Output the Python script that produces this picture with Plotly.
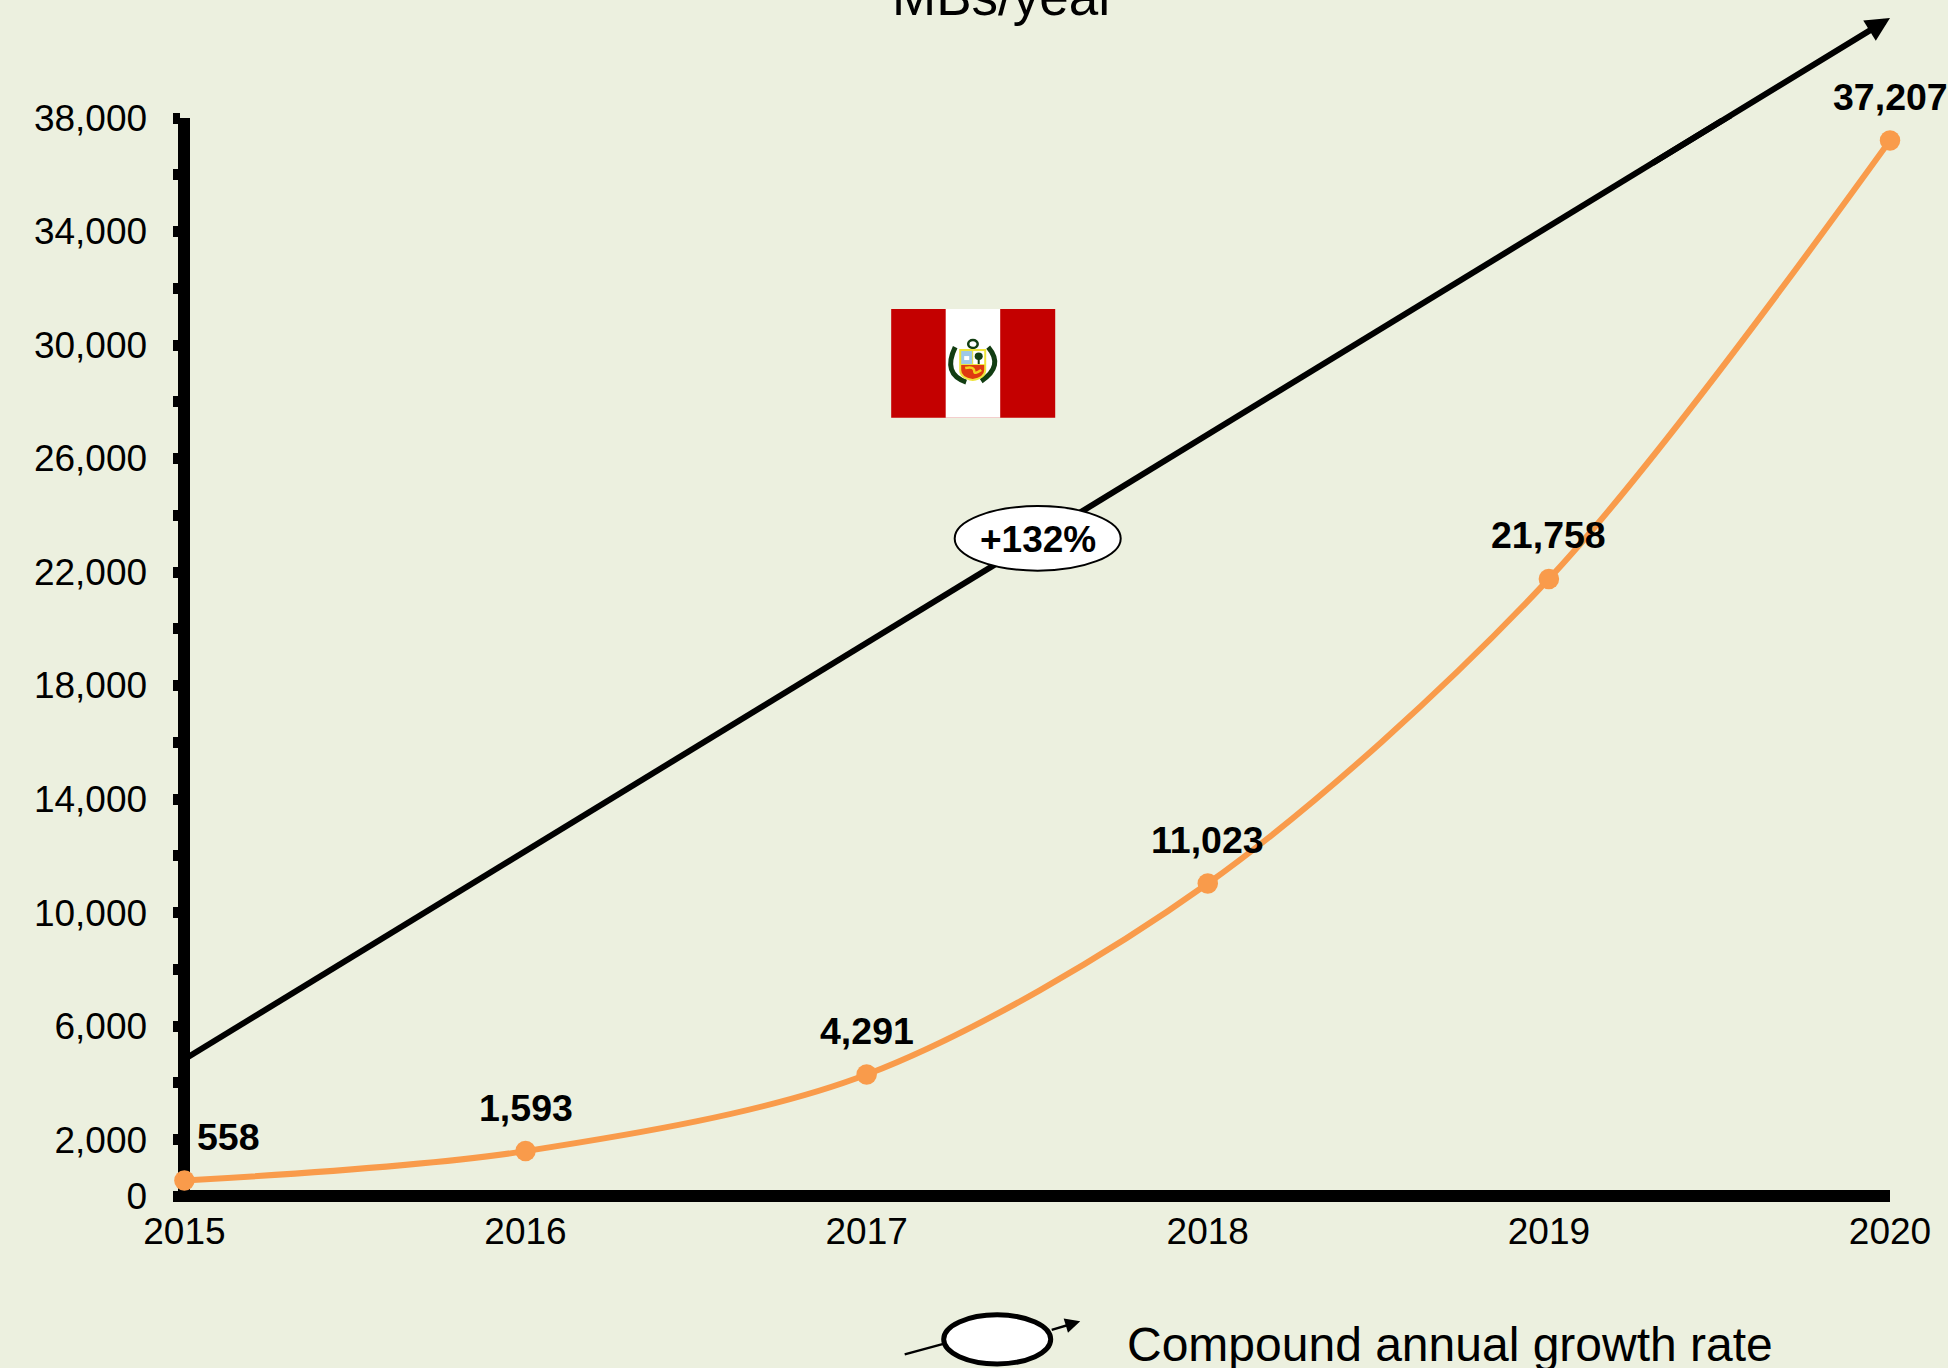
import plotly.graph_objects as go

W, H = 1948, 1368
BG = "#ECF0DF"
ORANGE = "#F99B4B"
FONT = "Liberation Sans"

# ---- data ----
years = ["2015", "2016", "2017", "2018", "2019", "2020"]
year_pos = [0, 1, 2, 3, 4, 5]
mbs_per_year = [558, 1593, 4291, 11023, 21758, 37207]
value_labels = ["558", "1,593", "4,291", "11,023", "21,758", "37,207"]
y_ticks = [0, 2000, 4000, 6000, 8000, 10000, 12000, 14000, 16000, 18000, 20000,
           22000, 24000, 26000, 28000, 30000, 32000, 34000, 36000, 38000]
y_tick_labels = ["0", "2,000", "", "6,000", "", "10,000", "", "14,000", "", "18,000", "",
                 "22,000", "", "26,000", "", "30,000", "", "34,000", "", "38,000"]
trend_x = [0, 5]
trend_y = [4830, 41520]
cagr_label = "+132%"
title_text = "MBs/year"
legend_text = "Compound annual growth rate"

# ---- layout geometry (page pixels) ----
X0, X5 = 184.3, 1889.7
Y0, Y38 = 1196.0, 118.0
px_per_x = (X5 - X0) / 5
px_per_y = (Y0 - Y38) / 38000
x_pad = 0.01
y_pad = 200
L = X0 - x_pad * px_per_x
B = Y0 + y_pad * px_per_y
R = X5
T = Y38


def fx(p):
    return (p - L) / (R - L)


def fy(p):
    return (B - p) / (B - T)


def P(x, y):
    return f"{fx(x)},{fy(y)}"


def rect(x0, y0, x1, y1, color):
    return dict(type="rect", xref="paper", yref="paper", x0=fx(x0), x1=fx(x1), y0=fy(y1), y1=fy(y0),
                fillcolor=color, line=dict(width=0), layer="above")


def oval(x0, y0, x1, y1, fill, line="rgba(0,0,0,0)", lw=0):
    return dict(type="circle", xref="paper", yref="paper", x0=fx(x0), x1=fx(x1), y0=fy(y1), y1=fy(y0),
                fillcolor=fill, line=dict(color=line, width=lw), layer="above")


def stroke(d, color, lw, fill=None):
    return dict(type="path", xref="paper", yref="paper", path=d, fillcolor=fill or "rgba(0,0,0,0)",
                line=dict(color=color, width=lw), layer="above")


fig = go.Figure()

# The line is clipped at the top of the plot; its last stretch and head are the arrow annotation below.
fig.add_trace(go.Scatter(
    x=trend_x, y=trend_y, mode="lines", hoverinfo="skip", showlegend=False,
    line=dict(color="black", width=6),
))
fig.add_trace(go.Scatter(
    x=year_pos, y=mbs_per_year, mode="lines+markers", cliponaxis=False, hoverinfo="skip", showlegend=False,
    line=dict(color=ORANGE, width=6, shape="spline", smoothing=0.9),
    marker=dict(color=ORANGE, size=20.5, line=dict(width=0)),
))

shapes = []
# CAGR bubble
shapes.append(oval(954.5, 506, 1120.5, 570.5, "white", "black", 2))

# flag
shapes.append(rect(891, 309, 1055, 417.7, "#C40000"))
shapes.append(rect(945.5, 309, 1000, 417.7, "white"))
GREEN = "#123D12"
# palm and laurel branches
shapes.append(stroke(f"M{P(955, 347)} Q{P(942, 374)} {P(966, 382)}", GREEN, 5))
shapes.append(stroke(f"M{P(988, 347)} Q{P(1004, 366)} {P(981, 381)}", GREEN, 5))
shapes.append(oval(968, 340, 977.5, 348, "white", GREEN, 2.5))
# shield
shapes.append(stroke(f"M{P(959, 349)} L{P(986, 349)} L{P(986, 370)} Q{P(986, 379)} {P(972.5, 381)} "
                     f"Q{P(959, 379)} {P(959, 370)} Z", "rgba(0,0,0,0)", 0, "#EFE43A"))
shapes.append(rect(961, 351, 972, 364, "#9CC8E8"))
shapes.append(rect(973, 351, 984, 364, "white"))
shapes.append(oval(974.5, 352.5, 982.5, 360, GREEN))
shapes.append(rect(977.5, 359, 979.5, 364, GREEN))
shapes.append(rect(964, 356, 969, 360, "white"))
shapes.append(stroke(f"M{P(961, 365)} L{P(984, 365)} L{P(984, 370)} Q{P(984, 377)} {P(972.5, 379)} "
                     f"Q{P(961, 377)} {P(961, 370)} Z", "rgba(0,0,0,0)", 0, "#E03A10"))
shapes.append(stroke(f"M{P(965, 368)} Q{P(974, 366)} {P(974, 371)} Q{P(974, 375)} {P(981, 370)}", "#F3D21A", 2.5))

# legend key
shapes.append(stroke(f"M{P(904.5, 1354)} L{P(945, 1343)}", "black", 2.5))
shapes.append(oval(943.5, 1314.5, 1050.5, 1363.5, "white", "black", 5))

annotations = []
for xv, yv, label in zip(year_pos, mbs_per_year, value_labels):
    annotations.append(dict(
        x=xv, y=yv, xref="x", yref="y", text=label, showarrow=False, yanchor="middle", xanchor="center",
        yshift=43.5, xshift=44 if xv == 0 else 0,
        font=dict(family=FONT, size=37.5, color="black", weight="bold"),
    ))
annotations.append(dict(
    x=fx(1038), y=fy(539), xref="paper", yref="paper", text=cagr_label, showarrow=False,
    font=dict(family=FONT, size=37, color="black", weight="bold"),
))
annotations.append(dict(
    x=fx(1004), y=fy(16), xref="paper", yref="paper", text=title_text, showarrow=False,
    yanchor="bottom", yshift=-12, font=dict(family=FONT, size=53, color="black"),
))
annotations.append(dict(
    x=fx(1124.5), y=fy(1344), xref="paper", yref="paper", text=legend_text, showarrow=False,
    xanchor="left", yanchor="middle", font=dict(family=FONT, size=48, color="black"),
))
annotations.append(dict(
    x=fx(1080), y=fy(1321), xref="paper", yref="paper", ax=-30, ay=9,
    axref="pixel", ayref="pixel", text="", showarrow=True,
    arrowhead=2, arrowsize=1.2, arrowwidth=2.5, arrowcolor="black",
))
# upper stretch of the growth-rate line with its arrowhead
tail_x = 4.3
tail_y = trend_y[0] + (trend_y[1] - trend_y[0]) * tail_x / trend_x[1]
annotations.append(dict(
    x=trend_x[1], y=trend_y[1], xref="x", yref="y", ax=tail_x, ay=tail_y, axref="x", ayref="y",
    text="", showarrow=True, arrowhead=2, arrowsize=0.8, arrowwidth=6, arrowcolor="black",
))

fig.update_layout(
    width=W, height=H, autosize=False,
    margin=dict(l=L, r=W - R, t=T, b=H - B, pad=0),
    paper_bgcolor=BG, plot_bgcolor=BG,
    showlegend=False,
    font=dict(family=FONT, size=37, color="black"),
    shapes=shapes, annotations=annotations,
    xaxis=dict(
        range=[-x_pad, 5], tickmode="array", tickvals=year_pos, ticktext=years,
        showgrid=False, showline=False, ticks="", automargin=False, zeroline=True,
        zerolinecolor="black", zerolinewidth=11.5, ticklabelstandoff=4,
        tickfont=dict(family=FONT, size=37, color="black"),
    ),
    yaxis=dict(
        range=[-y_pad, 38000], tickmode="array", tickvals=y_ticks, ticktext=y_tick_labels,
        showgrid=False, showline=False, ticks="outside", ticklen=7.5, tickwidth=11, tickcolor="black",
        automargin=False, zeroline=True, zerolinecolor="black", zerolinewidth=11.5, ticklabelstandoff=18,
        tickfont=dict(family=FONT, size=37, color="black"),
    ),
)

fig.write_html("out.html", config=dict(displayModeBar=False),
               post_script="document.body.style.margin='0';document.documentElement.style.overflow='hidden';")
